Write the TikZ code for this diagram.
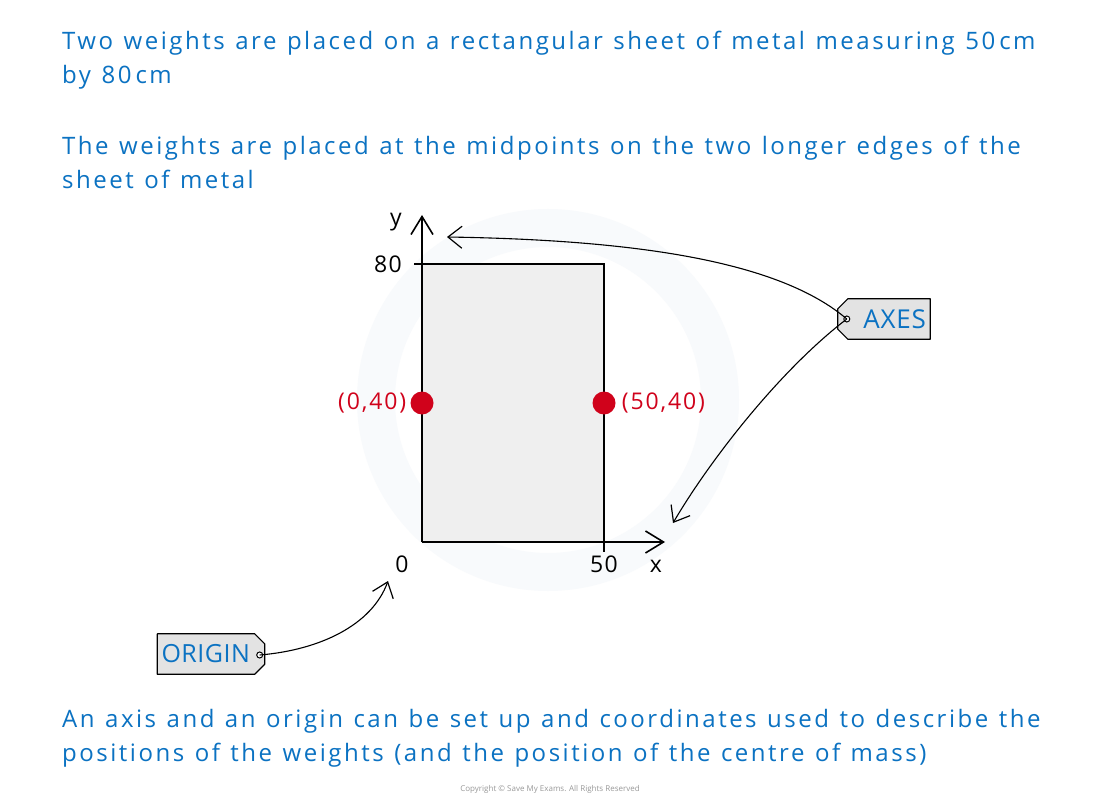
\documentclass[tikz,border=0pt]{standalone}
\usepackage{fontspec}
\setmainfont{Open Sans}
\newfontfamily\parafont[LetterSpace=10.5, WordSpace=1.2]{Open Sans}
\usetikzlibrary{calc,arrows.meta,positioning}

\definecolor{textblue}{HTML}{0B72C2}
\definecolor{dotred}{HTML}{D0021B}
\definecolor{sheetgrey}{HTML}{EFEFEF}
\definecolor{taggrey}{HTML}{E3E3E3}
\definecolor{markgrey}{HTML}{F8FAFC}

\tikzset{
    para/.style={anchor=base west, inner sep=0pt, text=textblue, font=\parafont\fontsize{24}{28}\selectfont},
    axislabel/.style={inner sep=0pt, font=\fontsize{23}{26}\selectfont\addfontfeatures{LetterSpace=6}},
    poslabel/.style={inner sep=0pt, text=dotred, font=\fontsize{23}{26}\selectfont\addfontfeatures{LetterSpace=8}},
    tag/.style={inner sep=0pt, minimum height=40, text=textblue, font=\fontsize{26}{28}\selectfont\addfontfeatures{LetterSpace=3}},
    tagline/.style={fill=taggrey, draw=black, line width=1.2, line join=round},
    pointer/.style={line width=1.1, -{Straight Barb[length=14, width=22, line width=1.2]}},
    axisline/.style={line width=2, -{Straight Barb[length=18, width=22, line width=1.6]}},
    weight/.style={circle, fill=dotred, inner sep=0pt, minimum size=23}
}

\begin{document}
\begin{tikzpicture}[x=1pt, y=-1pt]
    \useasboundingbox[fill=white] (0,0) rectangle (1100,802);

    \coordinate (O) at (422,542);
    \coordinate (X) at (665,542);
    \coordinate (Y) at (422,215);
    \coordinate (TL) at (422,264);
    \coordinate (BR) at (604,542);

    % Watermark
    \draw[markgrey, line width=38] (548,400) circle (172);

    % Sheet of metal
    \fill[sheetgrey] (TL) rectangle (BR);
    \draw[line width=2] (414,264) -- (604,264) -- (604,552);

    % Axes
    \draw[axisline] (O) -- (Y);
    \draw[axisline] (O) -- (X);

    % Axis labels
    \node[axislabel] (ylab) at (396,222) {y};
    \node[axislabel] (xlab) at (656,566) {x};
    \node[axislabel, anchor=east] (eighty) at (402,264) {80};
    \node[axislabel] (zero) at (402,564) {0};
    \node[axislabel] (fifty) at (604,564) {50};

    % Weights
    \node[weight] (w1) at (422,403) {};
    \node[weight] (w2) at (604,403) {};
    \node[poslabel, left=4 of w1] (w1lab) {(0,40)};
    \node[poslabel, right=6 of w2] (w2lab) {(50,40)};

    % AXES tag
    \node[tag, minimum width=92] (axes) at (884,319) {};
    \draw[tagline] ($(axes.north west)+(10,0)$) -- (axes.north east) -- (axes.south east)
        -- ($(axes.south west)+(10,0)$) -- ($(axes.south west)+(0,-10)$)
        -- ($(axes.north west)+(0,10)$) -- cycle;
    \node[tag, anchor=east] at ($(axes.east)+(-4,0)$) {AXES};
    \coordinate (axhole) at ($(axes.west)+(9,0)$);
    \draw[line width=1, fill=white] (axhole) circle (3);

    % ORIGIN tag
    \node[tag, minimum width=107] (origin) at (211,654) {};
    \draw[tagline] (origin.north west) -- ($(origin.north east)+(-10,0)$)
        -- ($(origin.north east)+(0,10)$) -- ($(origin.south east)+(0,-10)$)
        -- ($(origin.south east)+(-10,0)$) -- (origin.south west) -- cycle;
    \node[tag, anchor=west, font=\fontsize{25}{28}\selectfont\addfontfeatures{LetterSpace=2}] at ($(origin.west)+(4,0)$) {ORIGIN};
    \coordinate (orhole) at ($(origin.east)+(-5,1)$);
    \draw[line width=1, fill=white] (orhole) circle (3);

    % Pointers
    \coordinate (axtop) at (447,237);
    \coordinate (axend) at (673,523);
    \coordinate (orend) at (388,581);
    \draw[pointer] (axhole) .. controls (780,262) and (640,240) .. (axtop);
    \draw[pointer] (axhole) .. controls (780,370) and (710,460) .. (axend);
    \draw[pointer] (orhole) .. controls (320,650) and (372,625) .. (orend);

    % Text
    \node[para] (t1) at (62,50) {Two weights are placed on a rectangular sheet of metal measuring 50\,cm};
    \node[para] (t2) at (62,84) {by 80\,cm};
    \node[para] (t3) at (62,155) {The weights are placed at the midpoints on the two longer edges of the};
    \node[para] (t4) at (62,189) {sheet of metal};
    \node[para] (t5) at (62,727) {An axis and an origin can be set up and coordinates used to describe the};
    \node[para] (t6) at (62,761) {positions of the weights (and the position of the centre of mass)};

    \node[text=black!40, font=\fontsize{8}{10}\selectfont] (copy) at (550,789) {Copyright © Save My Exams. All Rights Reserved};
\end{tikzpicture}
\end{document}
